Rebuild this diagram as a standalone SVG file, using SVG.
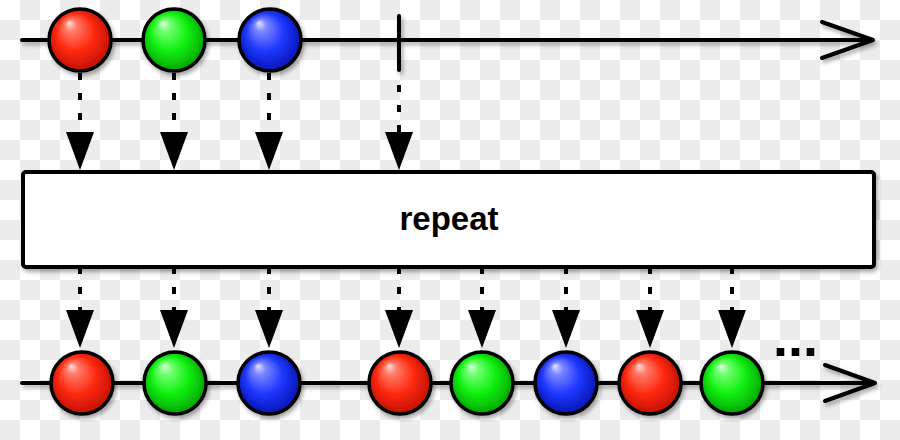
<svg xmlns="http://www.w3.org/2000/svg" width="900" height="440" viewBox="0 0 900 440">
  <defs>
    <pattern id="checker" width="40" height="40" patternUnits="userSpaceOnUse">
      <rect width="40" height="40" fill="#ffffff"/>
      <rect x="20" y="0" width="20" height="20" fill="#ececec"/>
      <rect x="0" y="20" width="20" height="20" fill="#ececec"/>
    </pattern>
    <filter id="shadow" x="-20%" y="-20%" width="140%" height="160%">
      <feDropShadow dx="2" dy="3" stdDeviation="2" flood-color="#000" flood-opacity="0.35"/>
    </filter>
    <radialGradient id="gRed" cx="0.5" cy="0.5" r="0.55" fx="0.32" fy="0.22">
      <stop offset="0" stop-color="#ffe0da"/>
      <stop offset="0.18" stop-color="#ff7a68"/>
      <stop offset="0.55" stop-color="#ff2a10"/>
      <stop offset="1" stop-color="#b80c00"/>
    </radialGradient>
    <radialGradient id="gGreen" cx="0.5" cy="0.5" r="0.55" fx="0.32" fy="0.22">
      <stop offset="0" stop-color="#e0ffe0"/>
      <stop offset="0.18" stop-color="#70ff70"/>
      <stop offset="0.55" stop-color="#10f010"/>
      <stop offset="1" stop-color="#009a00"/>
    </radialGradient>
    <radialGradient id="gBlue" cx="0.5" cy="0.5" r="0.55" fx="0.32" fy="0.22">
      <stop offset="0" stop-color="#e4e4ff"/>
      <stop offset="0.18" stop-color="#7a86ff"/>
      <stop offset="0.55" stop-color="#2038ff"/>
      <stop offset="1" stop-color="#0010a8"/>
    </radialGradient>
    <marker id="head" viewBox="0 0 38 28" refX="0" refY="14" markerWidth="38" markerHeight="28" markerUnits="userSpaceOnUse" orient="auto">
      <path d="M0,0 L38,14 L0,28 z" fill="#000"/>
    </marker>
    <style>
      .axis { stroke: #000; stroke-width: 4; fill: none; stroke-linecap: round; stroke-linejoin: round; }
      .conn { stroke: #000; stroke-width: 4; stroke-dasharray: 7 13; fill: none; }
      .marble { stroke: #000; stroke-width: 3.5; }
      .red { fill: url(#gRed); }
      .green { fill: url(#gGreen); }
      .blue { fill: url(#gBlue); }
      .label { font-family: "Liberation Sans", Arial, sans-serif; font-weight: bold; fill: #000; }
    </style>
  </defs>

  <rect width="900" height="440" fill="url(#checker)"/>

  <!-- timelines -->
  <g id="top-timeline" filter="url(#shadow)">
    <line class="axis" x1="22" y1="40" x2="871" y2="40"/>
    <polyline class="axis" points="822,22 873,40 822,58"/>
    <line class="axis" x1="399" y1="16" x2="399" y2="70"/>
  </g>
  <g id="bottom-timeline" filter="url(#shadow)">
    <line class="axis" x1="22" y1="383" x2="873" y2="383"/>
    <polyline class="axis" points="825,365 875,383 825,401"/>
  </g>

  <!-- connectors -->
  <g id="connectors">
    <line class="conn" x1="80" y1="73" x2="80" y2="132" marker-end="url(#head)"/>
    <line class="conn" x1="174" y1="73" x2="174" y2="132" marker-end="url(#head)"/>
    <line class="conn" x1="269" y1="73" x2="269" y2="132" marker-end="url(#head)"/>
    <line class="conn" x1="399" y1="72" x2="399" y2="132" stroke-dashoffset="7" marker-end="url(#head)"/>

    <line class="conn" x1="80" y1="267" x2="80" y2="310" marker-end="url(#head)"/>
    <line class="conn" x1="174" y1="267" x2="174" y2="310" marker-end="url(#head)"/>
    <line class="conn" x1="269" y1="267" x2="269" y2="310" marker-end="url(#head)"/>
    <line class="conn" x1="399" y1="267" x2="399" y2="310" marker-end="url(#head)"/>
    <line class="conn" x1="482" y1="267" x2="482" y2="310" marker-end="url(#head)"/>
    <line class="conn" x1="566" y1="267" x2="566" y2="310" marker-end="url(#head)"/>
    <line class="conn" x1="650" y1="267" x2="650" y2="310" marker-end="url(#head)"/>
    <line class="conn" x1="732" y1="267" x2="732" y2="310" marker-end="url(#head)"/>
  </g>

  <!-- operator box -->
  <g id="repeat-box">
    <rect x="23" y="172" width="851" height="95" rx="3" fill="#fff" stroke="#000" stroke-width="4" filter="url(#shadow)"/>
    <text class="label" x="449" y="230" font-size="33" text-anchor="middle">repeat</text>
  </g>

  <!-- source marbles -->
  <g id="src-red" filter="url(#shadow)"><circle class="marble red" cx="80" cy="40" r="31"/></g>
  <g id="src-green" filter="url(#shadow)"><circle class="marble green" cx="174" cy="40" r="31"/></g>
  <g id="src-blue" filter="url(#shadow)"><circle class="marble blue" cx="270" cy="40" r="31"/></g>

  <!-- result marbles -->
  <g id="out-red-1" filter="url(#shadow)"><circle class="marble red" cx="82" cy="383" r="31"/></g>
  <g id="out-green-1" filter="url(#shadow)"><circle class="marble green" cx="175" cy="383" r="31"/></g>
  <g id="out-blue-1" filter="url(#shadow)"><circle class="marble blue" cx="269" cy="383" r="31"/></g>
  <g id="out-red-2" filter="url(#shadow)"><circle class="marble red" cx="400" cy="383" r="31"/></g>
  <g id="out-green-2" filter="url(#shadow)"><circle class="marble green" cx="482" cy="383" r="31"/></g>
  <g id="out-blue-2" filter="url(#shadow)"><circle class="marble blue" cx="566" cy="383" r="31"/></g>
  <g id="out-red-3" filter="url(#shadow)"><circle class="marble red" cx="650" cy="383" r="31"/></g>
  <g id="out-green-3" filter="url(#shadow)"><circle class="marble green" cx="732" cy="383" r="31"/></g>

  <g id="ellipsis">
    <text class="label" x="773" y="356" font-size="54">...</text>
  </g>
</svg>
